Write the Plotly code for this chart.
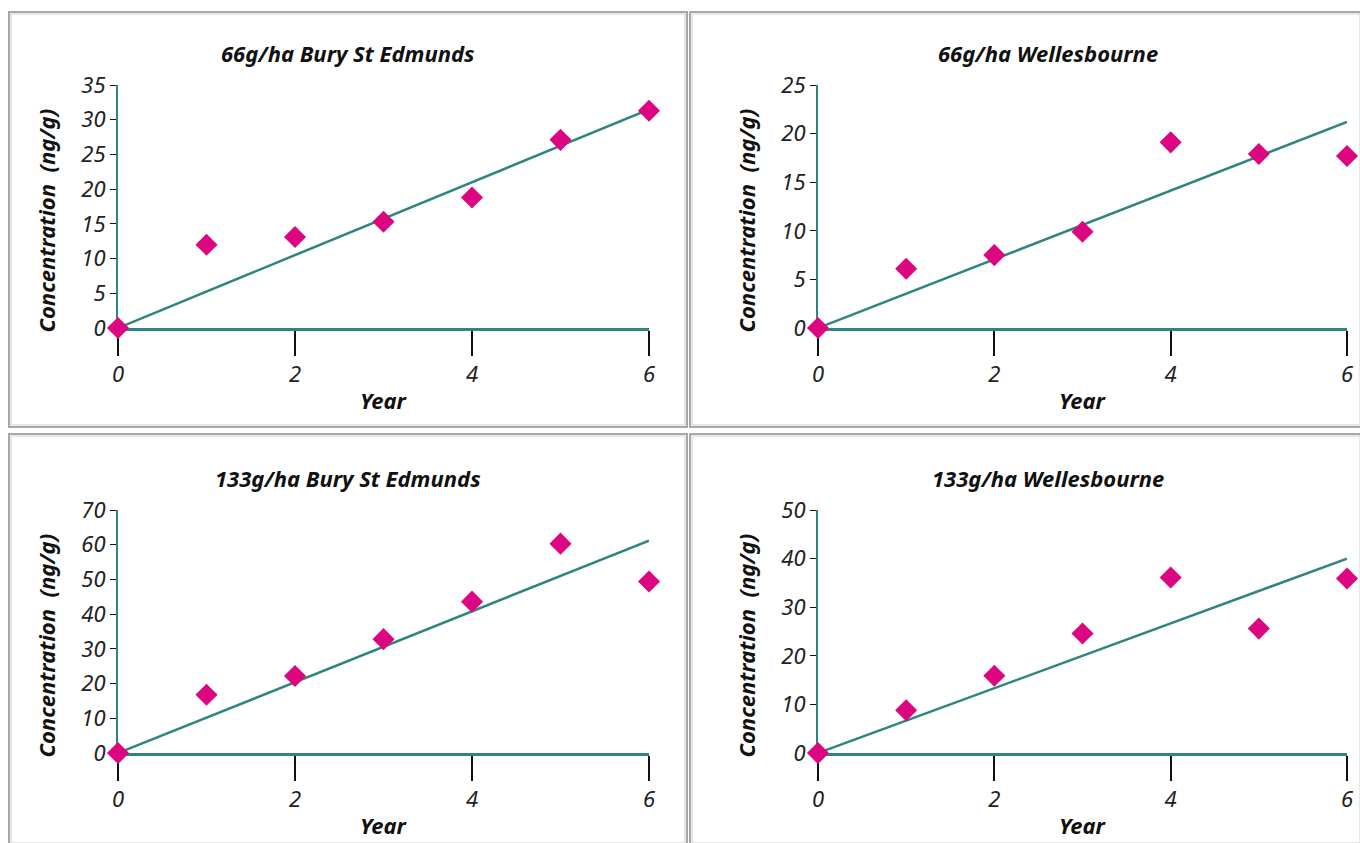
import plotly.graph_objects as go

W, H = 1360, 843

years = [0, 1, 2, 3, 4, 5, 6]
titles = ["66g/ha Bury St Edmunds", "66g/ha Wellesbourne",
          "133g/ha Bury St Edmunds", "133g/ha Wellesbourne"]
conc_66_bury = [0, 12.0, 13.1, 15.3, 18.8, 27.1, 31.3]
conc_66_welles = [0, 6.1, 7.5, 9.9, 19.1, 17.9, 17.7]
conc_133_bury = [0, 16.8, 22.2, 32.8, 43.6, 60.3, 49.4]
conc_133_welles = [0, 8.8, 15.9, 24.6, 36.1, 25.6, 35.9]
trend_x = [0, 6]
trend_end = [31.5, 21.2, 61.2, 40.0]
y_max = [35, 25, 70, 50]
y_dtick = [5, 5, 10, 10]
x_ticks = [0, 2, 4, 6]
series = [conc_66_bury, conc_66_welles, conc_133_bury, conc_133_welles]

TEAL = "#2E8580"
PINK = "#DC0680"
FONT = "Noto Sans"

def px_x(p):
    return p / W

def px_y(p):
    return 1 - p / H

# pixel geometry of each panel: (x0, x1, ytop, ybottom)
plot_px = [(118, 649, 85, 328), (818, 1347, 85, 328),
           (118, 649, 510, 753), (818, 1347, 510, 753)]
panel_px = [(9, 687, 12, 427), (690, 1405, 12, 427),
            (9, 687, 434, 870), (690, 1405, 434, 870)]

fig = go.Figure()
annotations = []
shapes = []
for i in range(4):
    ax = "" if i == 0 else str(i + 1)
    xa, ya = "x" + ax, "y" + ax
    x0, x1, yt, yb = plot_px[i]
    fig.add_trace(go.Scatter(x=trend_x, y=[0, trend_end[i]], mode="lines",
                             line=dict(color=TEAL, width=2.5),
                             xaxis=xa, yaxis=ya, showlegend=False, cliponaxis=False))
    fig.add_trace(go.Scatter(x=years, y=series[i], mode="markers",
                             marker=dict(symbol="diamond", size=17, color=PINK),
                             xaxis=xa, yaxis=ya, showlegend=False, cliponaxis=False))
    fig.layout["xaxis" + ax] = dict(
        domain=[px_x(x0), px_x(x1)], range=[0, 6], anchor=ya, automargin=False,
        tickvals=x_ticks, ticks="outside", ticklen=25, tickwidth=1.5, tickcolor="#111",
        showline=True, linecolor=TEAL, linewidth=3, showgrid=False, zeroline=False,
        tickfont=dict(family=FONT, size=22, color="#222", style="italic"),
        layer="below traces")
    fig.layout["yaxis" + ax] = dict(
        domain=[px_y(yb), px_y(yt)], range=[0, y_max[i]], anchor=xa, automargin=False,
        dtick=y_dtick[i], ticks="outside", ticklen=6, tickwidth=1.2, tickcolor="#111",
        showline=True, linecolor=TEAL, linewidth=2, showgrid=False, zeroline=False,
        tickfont=dict(family=FONT, size=22, color="#222", style="italic"),
        layer="below traces")
    # titles
    pcx = (panel_px[i][0] + panel_px[i][1]) / 2
    annotations.append(dict(text=titles[i], xref="paper", yref="paper",
                            x=px_x(pcx), y=px_y(yt - 32), xanchor="center", yanchor="middle",
                            showarrow=False,
                            font=dict(family=FONT, size=22, color="#111", weight="bold", style="italic")))
    annotations.append(dict(text="Year", xref="paper", yref="paper",
                            x=px_x((x0 + x1) / 2), y=px_y(yb + 72), xanchor="center", yanchor="middle",
                            showarrow=False,
                            font=dict(family=FONT, size=22, color="#111", weight="bold", style="italic")))
    annotations.append(dict(text="Concentration  (ng/g)", xref="paper", yref="paper",
                            x=px_x(x0 - 73), y=px_y((yt + yb) / 2 + 14), xanchor="center", yanchor="middle",
                            textangle=-90, showarrow=False,
                            font=dict(family=FONT, size=22, color="#111", weight="bold", style="italic")))
    # panel borders (clamped to the page)
    bx0, bx1, by0, by1 = panel_px[i]
    bx1 = min(bx1, W + 2)
    by1 = min(by1, H + 2)
    shapes.append(dict(type="rect", xref="paper", yref="paper",
                       x0=px_x(bx0), x1=px_x(bx1), y0=px_y(by1), y1=px_y(by0),
                       line=dict(color="#8C8C8C", width=1.5), layer="below"))
    shapes.append(dict(type="rect", xref="paper", yref="paper",
                       x0=px_x(bx0 + 2), x1=px_x(bx1 - 2), y0=px_y(by1 - 2), y1=px_y(by0 + 2),
                       line=dict(color="#CFCFCF", width=1), layer="below"))

fig.update_layout(width=W, height=H, margin=dict(l=0, r=0, t=0, b=0, autoexpand=False),
                  template=None,
                  paper_bgcolor="white", plot_bgcolor="white",
                  annotations=annotations, shapes=shapes, showlegend=False)
fig.write_html("out.html", config={"displayModeBar": False},
               post_script="document.body.style.margin='0';document.body.style.padding='0';"
                           "document.documentElement.style.overflow='hidden';"
                           "document.body.style.overflow='hidden';")
